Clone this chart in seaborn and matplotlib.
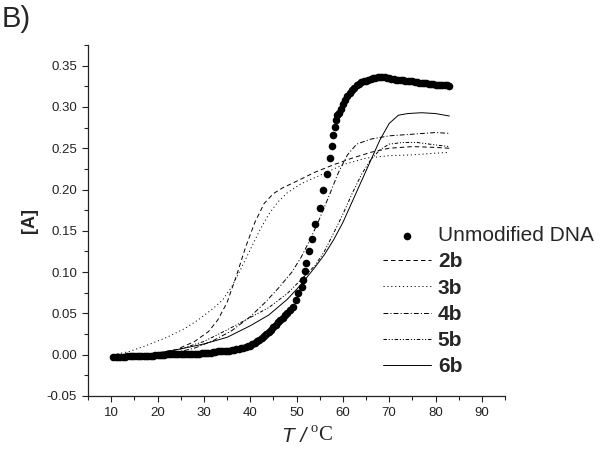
import numpy as np
import pandas as pd
import matplotlib
matplotlib.use("Agg")
import matplotlib.pyplot as plt
from matplotlib.ticker import MultipleLocator, FormatStrFormatter
import seaborn as sns

# Unmodified DNA (absorbance change vs temperature)
dna_t = [10.5, 11, 11.5, 12, 12.5, 13, 13.5, 14, 14.5, 15, 15.5, 16, 16.5, 17, 17.5, 18, 18.5,
         19, 19.5, 20, 20.5, 21, 21.5, 22, 22.5, 23, 23.5, 24, 24.5, 25, 25.5, 26, 26.5, 27,
         27.5, 28, 28.5, 29, 29.5, 30, 30.5, 31, 31.5, 32, 32.5, 33, 33.5, 34, 34.5, 35, 35.5,
         36, 36.5, 37, 37.5, 38, 38.5, 39, 39.5, 40, 40.5, 41, 41.5, 42, 42.5, 43, 43.5, 44,
         44.5, 45, 45.5, 46, 46.5, 47, 47.5, 48,
         48.63, 49.34, 49.92, 50.42, 51.15, 51.5, 51.8, 52.15, 52.79, 53.44, 54.09, 55.04,
         55.68, 56.55, 57.26, 57.63, 57.97, 58.27, 58.55, 58.83,
         59.1, 59.5, 60, 60.5, 61, 61.5, 62, 62.5, 63, 63.5, 64, 64.5, 65, 65.5, 66, 66.5, 67,
         67.5, 68, 68.5, 69, 69.5, 70, 70.5, 71, 71.5, 72, 72.5, 73, 73.5, 74, 74.5, 75, 75.5,
         76, 76.5, 77, 77.5, 78, 78.5, 79, 79.5, 80, 80.5, 81, 81.5, 82, 82.5, 83]
dna_a = [-0.003, -0.003, -0.003, -0.003, -0.003, -0.003, -0.002, -0.002, -0.002, -0.002, -0.002,
         -0.002, -0.001, -0.001, -0.001, -0.001, -0.001, -0.001, 0.000, 0.000, 0.000, 0.000,
         0.000, 0.001, 0.001, 0.001, 0.001, 0.001, 0.001, 0.001, 0.001, 0.001, 0.001, 0.001,
         0.001, 0.001, 0.001, 0.001, 0.002, 0.002, 0.002, 0.002, 0.002, 0.003, 0.003, 0.004,
         0.004, 0.005, 0.005, 0.005, 0.005, 0.006, 0.006, 0.007, 0.007, 0.008, 0.008, 0.009,
         0.010, 0.011, 0.0125, 0.014, 0.016, 0.018, 0.0205, 0.023, 0.0255, 0.028, 0.0305, 0.033,
         0.036, 0.039, 0.042, 0.045, 0.0475, 0.050,
         0.054, 0.058, 0.066, 0.0745, 0.082, 0.091, 0.101, 0.111, 0.125, 0.140, 0.158, 0.178,
         0.199, 0.219, 0.238, 0.253, 0.266, 0.276, 0.284, 0.290,
         0.293, 0.298, 0.304, 0.309, 0.313, 0.317, 0.320, 0.323, 0.326, 0.328, 0.330, 0.331,
         0.332, 0.333, 0.334, 0.335, 0.335, 0.336, 0.336, 0.336, 0.336, 0.335, 0.335, 0.334,
         0.334, 0.333, 0.333, 0.333, 0.333, 0.332, 0.332, 0.331, 0.331, 0.330, 0.330, 0.329,
         0.329, 0.329, 0.329, 0.328, 0.328, 0.328, 0.327, 0.327, 0.327, 0.326, 0.326, 0.326,
         0.325]

t_2b = [10.5, 15, 20, 24, 28, 31, 33, 35, 37, 39, 41, 43, 45, 47, 50, 54, 58, 62, 66, 70, 75, 80, 83]
a_2b = [-0.002, 0.000, 0.002, 0.006, 0.016, 0.028, 0.042, 0.063, 0.095, 0.130, 0.160, 0.183,
        0.195, 0.202, 0.210, 0.221, 0.230, 0.238, 0.245, 0.250, 0.252, 0.251, 0.250]

t_3b = [10.5, 14, 18, 22, 26, 29, 32, 34, 36, 38, 40, 42, 44, 46, 48, 51, 55, 60, 65, 70, 75, 80, 83]
a_3b = [0.000, 0.004, 0.012, 0.021, 0.032, 0.043, 0.056, 0.066, 0.082, 0.104, 0.127, 0.150,
        0.170, 0.185, 0.196, 0.207, 0.217, 0.230, 0.238, 0.241, 0.242, 0.244, 0.245]

t_4b = [10.5, 15, 20, 25, 28, 32, 36, 40, 43, 46, 49, 51, 53, 55, 57, 59, 61, 63, 66, 70, 75, 80, 83]
a_4b = [-0.002, -0.001, 0.001, 0.004, 0.008, 0.017, 0.029, 0.046, 0.062, 0.080, 0.100, 0.118,
        0.140, 0.165, 0.192, 0.220, 0.242, 0.255, 0.261, 0.265, 0.267, 0.269, 0.268]

t_5b = [10.5, 15, 20, 25, 30, 35, 40, 44, 48, 51, 54, 56, 58, 60, 62, 64, 66, 68, 70, 73, 76, 80, 83]
a_5b = [-0.002, -0.001, 0.001, 0.007, 0.016, 0.030, 0.045, 0.057, 0.074, 0.091, 0.108, 0.125,
        0.147, 0.170, 0.195, 0.218, 0.236, 0.248, 0.255, 0.257, 0.257, 0.254, 0.252]

t_6b = [10.5, 15, 20, 25, 30, 35, 40, 44, 48, 51, 54, 56, 58, 60, 62, 64, 66, 68, 70, 72, 74, 77, 80, 83]
a_6b = [-0.002, -0.001, 0.002, 0.007, 0.013, 0.021, 0.035, 0.048, 0.067, 0.085, 0.106, 0.121,
        0.139, 0.160, 0.185, 0.210, 0.235, 0.260, 0.280, 0.290, 0.292, 0.293, 0.292, 0.289]

sns.set_style("ticks")
plt.rcParams["font.family"] = ["Liberation Sans", "DejaVu Sans"]
plt.rcParams["axes.unicode_minus"] = False
plt.rcParams["lines.scale_dashes"] = False
plt.rcParams["mathtext.fontset"] = "custom"
plt.rcParams["mathtext.rm"] = "Liberation Serif"

fig = plt.figure(figsize=(6.02, 4.58), dpi=100)
ax = fig.add_axes([88 / 602, 1 - 396 / 458, (505 - 88) / 602, (396 - 45) / 458])

sns.scatterplot(x=dna_t, y=dna_a, ax=ax, color="black", s=30, linewidth=0,
                label="Unmodified DNA", zorder=3)

series = [
    ("2b", t_2b, a_2b, (0, (3.2, 2.2))),
    ("3b", t_3b, a_3b, (0, (0.8, 2.0))),
    ("4b", t_4b, a_4b, (0, (3.5, 1.5, 0.8, 1.5))),
    ("5b", t_5b, a_5b, (0, (2.5, 1.3, 0.8, 1.3, 0.8, 1.3))),
    ("6b", t_6b, a_6b, "-"),
]
for name, t, a, ls in series:
    sns.lineplot(x=t, y=a, ax=ax, color="black", linewidth=0.7, linestyle=ls,
                 label=name, sort=False, estimator=None)

ax.set_xlim(5, 95)
ax.set_ylim(-0.05, 0.375)
ax.xaxis.set_minor_locator(MultipleLocator(5))
ax.yaxis.set_minor_locator(MultipleLocator(0.025))
ax.set_xticks(np.arange(10, 91, 10))
ax.set_yticks(np.arange(-0.05, 0.36, 0.05))
ax.yaxis.set_major_formatter(FormatStrFormatter("%.2f"))
ax.tick_params(which="major", length=4.5, width=0.8, labelsize=9.5, colors="#222222",
               direction="out", pad=3.5)
ax.tick_params(which="minor", length=3, width=0.8, direction="out")
for s in ["left", "bottom"]:
    ax.spines[s].set_linewidth(0.9)
    ax.spines[s].set_color("#222222")
sns.despine(ax=ax)

ax.set_xlabel("")
ax.set_ylabel("[A]", fontsize=13, fontweight="bold", labelpad=6)
# x label: italic sans "T /" followed by serif degree-C
fig.text(306 / 602, 1 - 436 / 458, "T /", fontsize=15, style="italic",
         family="Liberation Sans", ha="right", va="center")
fig.text(310 / 602, 1 - 436 / 458, r"$^{\mathrm{o}}$C", fontsize=15,
         family="Liberation Serif", ha="left", va="center")

leg = ax.legend(loc="upper left", bbox_to_anchor=(383 / 602, 1 - 226 / 458),
                bbox_transform=fig.transFigure, frameon=False, fontsize=15,
                handlelength=2.3, handletextpad=0.33, labelspacing=0.35,
                borderpad=0, borderaxespad=0, scatterpoints=1)
for txt in leg.get_texts()[1:]:
    txt.set_fontweight("bold")

fig.text(0.002, 0.99, "B)", fontsize=21, va="top", ha="left")

fig.savefig("out.png", dpi=100)
